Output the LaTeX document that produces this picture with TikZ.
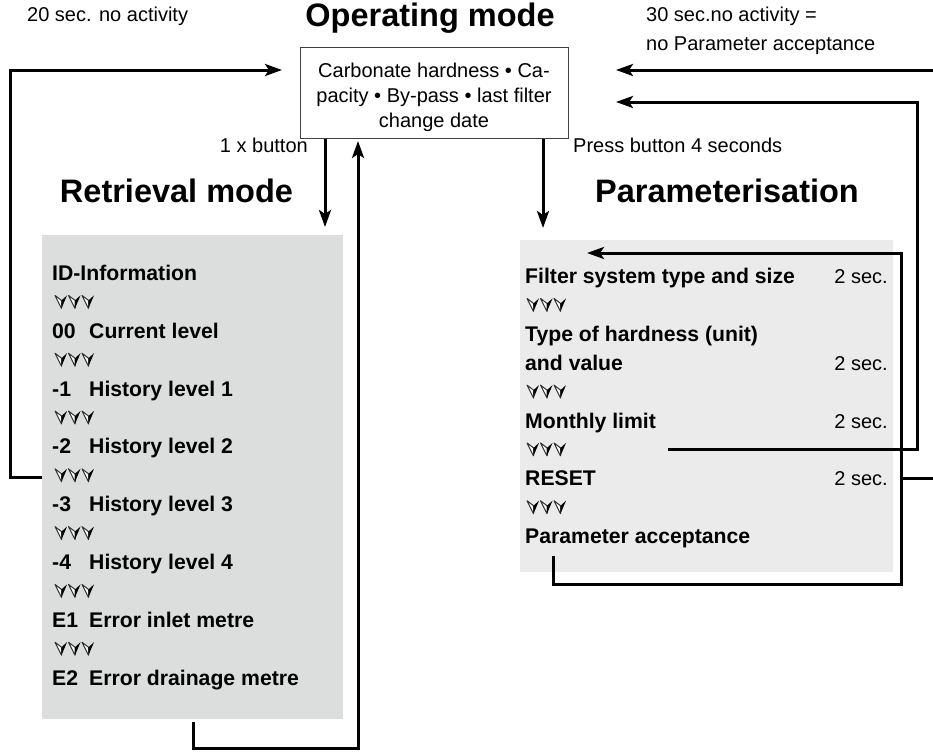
\documentclass[tikz,border=0pt]{standalone}
\usepackage{fontspec}
\setmainfont{Liberation Sans}
\usetikzlibrary{arrows.meta}
\definecolor{leftgray}{HTML}{DCDDDD}
\definecolor{rightgray}{HTML}{EBEBEB}
\begin{document}
\begin{tikzpicture}[x=1pt,y=-1pt,
  conn/.style={line width=3pt, line join=miter},
  arr/.style={line width=3pt, line join=miter, -{Stealth[length=17pt,width=12pt,inset=4pt]}},
  reg/.style={font=\fontsize{20}{24}\selectfont, inner sep=0pt},
  bld/.style={font=\fontsize{21.2}{25}\selectfont\bfseries, inner sep=0pt},
  ttl/.style={font=\fontsize{32.5}{38}\selectfont\bfseries, inner sep=0pt},
  panel/.style={inner sep=0pt, anchor=north west},
  trio/.pic={
    \foreach \k in {0,13.5,27}{
      \filldraw[black!80, fill=white, line width=1pt, line join=round] (\k-6,-6.5) -- (\k+0.5,6.5) -- (\k+0.5,-1.5) -- cycle;
      \fill[black] (\k+0.5,6.5) -- (\k+6,-6.5) -- (\k+0.5,-1.5) -- cycle;
    }
  }
]
\useasboundingbox (0,0) rectangle (933,752);
\fill[white] (0,0) rectangle (933,752);

% panels and box
\node[panel, fill=leftgray, minimum width=301pt, minimum height=484pt] (ret) at (42,235) {};
\node[panel, fill=rightgray, minimum width=373pt, minimum height=332pt] (par) at (520,240) {};
\node[panel, draw=black!75, line width=1pt, fill=white, minimum width=268pt, minimum height=91pt] (op) at (300,47) {};

% titles and notes
\node[ttl, anchor=base] (t-op) at (430,27) {Operating mode};
\node[ttl, anchor=base] (t-ret) at (176.5,202) {Retrieval mode};
\node[ttl, anchor=base] (t-par) at (727,202) {Parameterisation};
\node[reg, anchor=base west] (n20) at (27,22) {20 sec. no activity};
\node[reg, anchor=base west] (n30a) at (646,22) {30 sec.no activity =};
\node[reg, anchor=base west] (n30b) at (646,50) {no Parameter acceptance};
\node[reg, anchor=base east] (n1x) at (308,152) {1 x button};
\node[reg, anchor=base west] (npress) at (573,152) {Press button 4 seconds};

% box text
\node[reg, anchor=base] (op1) at (434,77) {Carbonate hardness • Ca-};
\node[reg, anchor=base] (op2) at (434,102) {pacity • By-pass • last filter};
\node[reg, anchor=base] (op3) at (434,127) {change date};

% retrieval list
\node[bld, anchor=base west] (r0) at (52,280.5) {ID-Information};
\node[bld, anchor=base west] (r1a) at (52,338.3) {00};
\node[bld, anchor=base west] (r1b) at (89,338.3) {Current level};
\node[bld, anchor=base west] (r2a) at (52,396.1) {-1};
\node[bld, anchor=base west] (r2b) at (89,396.1) {History level 1};
\node[bld, anchor=base west] (r3a) at (52,453.9) {-2};
\node[bld, anchor=base west] (r3b) at (89,453.9) {History level 2};
\node[bld, anchor=base west] (r4a) at (52,511.7) {-3};
\node[bld, anchor=base west] (r4b) at (89,511.7) {History level 3};
\node[bld, anchor=base west] (r5a) at (52,569.5) {-4};
\node[bld, anchor=base west] (r5b) at (89,569.5) {History level 4};
\node[bld, anchor=base west] (r6a) at (52,627.3) {E1};
\node[bld, anchor=base west] (r6b) at (89,627.3) {Error inlet metre};
\node[bld, anchor=base west] (r7a) at (52,685.1) {E2};
\node[bld, anchor=base west] (r7b) at (89,685.1) {Error drainage metre};
\foreach \y in {301.9,359.7,417.5,475.3,533.1,590.9,648.7}{
  \pic at (61,\y) {trio};
}

% parameterisation list
\node[bld, anchor=base west] (p0) at (525,283.5) {Filter system type and size};
\node[reg, anchor=base east] (p0s) at (888,283.5) {2 sec.};
\node[bld, anchor=base west] (p1) at (525,341.3) {Type of hardness (unit)};
\node[bld, anchor=base west] (p2) at (525,370.2) {and value};
\node[reg, anchor=base east] (p2s) at (888,370.2) {2 sec.};
\node[bld, anchor=base west] (p3) at (525,428) {Monthly limit};
\node[reg, anchor=base east] (p3s) at (888,428) {2 sec.};
\node[bld, anchor=base west] (p4) at (525,485.8) {RESET};
\node[reg, anchor=base east] (p4s) at (888,485.8) {2 sec.};
\node[bld, anchor=base west] (p5) at (525,543.6) {Parameter acceptance};
\foreach \y in {304.9,391.6,449.4,507.2}{
  \pic at (533,\y) {trio};
}

% coordinates
\coordinate (lstub) at (10,477);
\coordinate (ltop) at (10,70);
\coordinate (xa) at (325,0);
\coordinate (xb) at (193,0);
\coordinate (b3) at (358,748);
\coordinate (xr) at (543,0);
\coordinate (redge) at (933,70);
\coordinate (mstart) at (668,449.4);
\coordinate (m2) at (917,102);
\coordinate (pstart) at (553,556);
\coordinate (pc) at (901,584);
\coordinate (ptip) at (587,253);
\coordinate (rs1) at (901,478.3);
\coordinate (rs2) at (933,478.3);

% connectors
\draw[arr, shorten >=18pt] (ret.west |- lstub) -- (lstub) -- (ltop) -- (op.west |- ltop);
\draw[arr, shorten >=8pt] (op.south -| xa) -- (ret.north -| xa);
\draw[arr, shorten >=2pt, shorten <=3pt] (ret.south -| xb) |- (b3) -- (op.south -| b3);
\draw[arr, shorten >=12pt] (op.south -| xr) -- (par.north -| xr);
\draw[arr, shorten >=47pt] (redge) -- (op.east |- redge);
\draw[arr, shorten >=47pt] (mstart) -| (m2) -- (op.east |- m2);
\draw[arr] (pstart) |- (pc) |- (ptip);
\draw[conn] (rs1) -- (rs2);
\end{tikzpicture}
\end{document}
